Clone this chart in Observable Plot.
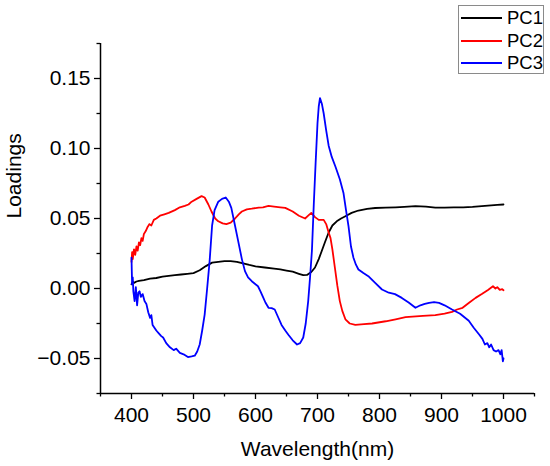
<!DOCTYPE html>
<html>
<head>
<meta charset="utf-8">
<script src="https://cdn.jsdelivr.net/npm/d3@7"></script>
<script src="https://cdn.jsdelivr.net/npm/@observablehq/plot@0.6"></script>
<style>
  html, body { margin: 0; padding: 0; background: #fff; }
  #wrap { position: relative; width: 550px; height: 466px; font-family: "Liberation Sans", Arial, sans-serif; }
  #legend { position: absolute; left: 458px; top: 5px; width: 86px; height: 69px; border: 1px solid #8a8a8a; background: #fff; box-sizing: border-box; }
  .item { position: absolute; left: 2px; height: 22px; display: flex; align-items: center; font-size: 18.5px; color: #000; }
  .item svg { margin-right: 5px; }
</style>
</head>
<body>
<div id="wrap"></div>
<script>
const series = ["PC1", "PC2", "PC3"];
const colors = ["#000000", "#ff0000", "#0000ff"];

const pc1Wl = [400, 402, 404, 408, 412, 420, 430, 440, 450, 460, 470, 480, 490, 500, 510, 520, 530, 540, 550, 560, 570, 580, 590, 600, 615, 630, 640, 650, 660, 670, 677, 683, 690, 696, 702, 707, 712, 718, 724, 731, 738, 745, 755, 766, 780, 793, 810, 826, 840, 858, 875, 890, 905, 920, 935, 950, 965, 980, 990, 1000];
const pc1 = [0.003, 0.005, 0.004, 0.005, 0.0055, 0.006, 0.007, 0.0075, 0.0085, 0.009, 0.0095, 0.010, 0.0105, 0.011, 0.013, 0.016, 0.0185, 0.019, 0.0195, 0.0195, 0.019, 0.018, 0.0168, 0.0158, 0.015, 0.0142, 0.0136, 0.0128, 0.012, 0.0105, 0.0095, 0.0097, 0.0118, 0.015, 0.021, 0.027, 0.033, 0.040, 0.045, 0.048, 0.050, 0.0516, 0.054, 0.0557, 0.0568, 0.0575, 0.0578, 0.058, 0.0583, 0.0588, 0.0585, 0.0578, 0.0578, 0.058, 0.058, 0.0583, 0.0588, 0.0594, 0.0597, 0.060];

const pc2Wl = [400, 401, 402, 404, 406, 408, 410, 412, 414, 416, 418, 420, 423, 426, 429, 432, 436, 440, 446, 453, 460, 470, 478, 486, 492, 497, 505, 513, 518, 524, 529, 535, 540, 547, 553, 560, 567, 573, 578, 586, 594, 605, 612, 621, 630, 640, 648, 660, 670, 680, 685, 690, 696, 702, 710, 714, 718, 721, 724, 728, 732, 736, 740, 745, 752, 761, 775, 788, 810, 826, 842, 870, 890, 905, 917, 925, 934, 945, 955, 965, 975, 983, 987, 990, 994, 998, 1000];
const pc2 = [0.019, 0.026, 0.021, 0.028, 0.024, 0.030, 0.027, 0.033, 0.031, 0.036, 0.034, 0.039, 0.041, 0.044, 0.046, 0.045, 0.049, 0.050, 0.052, 0.053, 0.054, 0.056, 0.058, 0.059, 0.060, 0.062, 0.064, 0.066, 0.065, 0.060, 0.055, 0.050, 0.048, 0.0465, 0.046, 0.047, 0.050, 0.053, 0.055, 0.0565, 0.057, 0.0578, 0.058, 0.059, 0.0585, 0.058, 0.0576, 0.055, 0.052, 0.050, 0.052, 0.054, 0.051, 0.049, 0.049, 0.046, 0.040, 0.036, 0.028, 0.015, 0.002, -0.009, -0.016, -0.022, -0.025, -0.026, -0.0255, -0.025, -0.0234, -0.022, -0.0205, -0.0195, -0.019, -0.018, -0.0167, -0.015, -0.0138, -0.010, -0.0067, -0.004, -0.001, 0.0016, 0.000, 0.001, -0.001, -0.0005, -0.0012];

const pc3Wl = [400, 400.5, 401, 402, 403, 405, 407, 409, 411, 413, 415, 418, 421, 424, 427, 430, 432, 434, 437, 440, 444, 448, 451, 456, 462, 468, 472, 478, 484, 491, 497, 502, 506, 510, 514, 518, 522, 526, 530, 534, 540, 546, 552, 557, 561, 566, 572, 578, 583, 588, 594, 600, 604, 608, 612, 616, 621, 626, 631, 636, 642, 648, 653, 660, 667, 672, 677, 681, 685, 688, 691, 694, 697, 700, 702, 704, 707, 710, 714, 718, 723, 729, 736, 742, 746, 750, 754, 758, 762, 766, 774, 782, 793, 804, 815, 825, 836, 847, 858, 866, 873, 880, 888, 896, 905, 917, 930, 944, 952, 961, 966, 970, 974, 977, 980, 984, 988, 992, 995, 997, 999, 1000];
const pc3 = [0.022, 0.012, 0.003, 0.008, -0.002, -0.009, 0.001, -0.012, -0.003, -0.002, -0.006, -0.004, -0.009, -0.011, -0.017, -0.021, -0.019, -0.026, -0.028, -0.030, -0.032, -0.034, -0.035, -0.039, -0.042, -0.044, -0.043, -0.046, -0.047, -0.049, -0.0485, -0.048, -0.045, -0.040, -0.030, -0.0186, 0.000, 0.0195, 0.045, 0.056, 0.062, 0.064, 0.065, 0.062, 0.0576, 0.047, 0.034, 0.021, 0.0124, 0.008, 0.0052, 0.003, 0.0016, -0.002, -0.006, -0.010, -0.0138, -0.014, -0.015, -0.020, -0.026, -0.030, -0.033, -0.037, -0.040, -0.039, -0.035, -0.025, -0.009, 0.008, 0.027, 0.060, 0.090, 0.118, 0.130, 0.136, 0.132, 0.125, 0.113, 0.102, 0.094, 0.087, 0.078, 0.068, 0.056, 0.0445, 0.030, 0.022, 0.017, 0.0136, 0.011, 0.0088, 0.004, -0.0007, -0.003, -0.004, -0.0067, -0.010, -0.0138, -0.012, -0.011, -0.0103, -0.0098, -0.0103, -0.012, -0.015, -0.018, -0.023, -0.028, -0.033, -0.036, -0.040, -0.039, -0.042, -0.040, -0.044, -0.045, -0.044, -0.047, -0.044, -0.052, -0.050];

const xMajor = [400, 500, 600, 700, 800, 900, 1000];
const xMinor = [350, 450, 550, 650, 750, 850, 950, 1050];
const yMajor = [-0.05, 0.00, 0.05, 0.10, 0.15];
const yMinor = [-0.075, -0.025, 0.025, 0.075, 0.125, 0.175];

const wls = [pc1Wl, pc2Wl, pc3Wl];
const vals = [pc1, pc2, pc3];
const rows = [];
series.forEach((s, i) => wls[i].forEach((w, j) => rows.push({series: s, wl: w, v: vals[i][j]})));

const chart = Plot.plot({
  width: 550,
  height: 466,
  marginLeft: 100,
  marginRight: 16,
  marginTop: 43,
  marginBottom: 73,
  style: {fontFamily: "'Liberation Sans', Arial, sans-serif", fontSize: "21px", color: "#000", background: "#fff"},
  x: {domain: [350, 1050]},
  y: {domain: [-0.075, 0.175]},
  color: {domain: series, range: colors},
  marks: [
    Plot.axisX({ticks: xMinor, tickSize: 3.5, tickFormat: () => "", stroke: "#000", strokeWidth: 1.3, label: null}),
    Plot.axisX({ticks: xMajor, tickSize: 6, tickPadding: 8, tickFormat: d => String(d), stroke: "#000", strokeWidth: 1.3, fontSize: 21, label: null}),
    Plot.axisY({ticks: yMinor, tickSize: 3.5, tickFormat: () => "", stroke: "#000", strokeWidth: 1.3, label: null}),
    Plot.axisY({ticks: yMajor, tickSize: 6, tickPadding: 4, tickFormat: d3.format(".2f"), stroke: "#000", strokeWidth: 1.3, fontSize: 21, label: null}),
    Plot.ruleX([350], {stroke: "#000", strokeWidth: 1.5}),
    Plot.ruleY([-0.075], {stroke: "#000", strokeWidth: 1.5}),
    Plot.line(rows, {x: "wl", y: "v", z: "series", stroke: "series", strokeWidth: 1.8, curve: "linear"}),
    Plot.text(["Wavelength(nm)"], {frameAnchor: "bottom", dy: 62, fontSize: 21, fill: "#000"}),
    Plot.text(["Loadings"], {frameAnchor: "left", dx: -86, rotate: -90, fontSize: 21, fill: "#000"})
  ]
});

const wrap = document.getElementById("wrap");
wrap.appendChild(chart);

const legend = document.createElement("div");
legend.id = "legend";
series.forEach((s, i) => {
  const it = document.createElement("div");
  it.className = "item";
  it.style.top = (1 + i * 22.5) + "px";
  it.innerHTML = `<svg width="41" height="4"><line x1="0" y1="2" x2="41" y2="2" stroke="${colors[i]}" stroke-width="1.8"/></svg><span>${s}</span>`;
  legend.appendChild(it);
});
wrap.appendChild(legend);
</script>
</body>
</html>
